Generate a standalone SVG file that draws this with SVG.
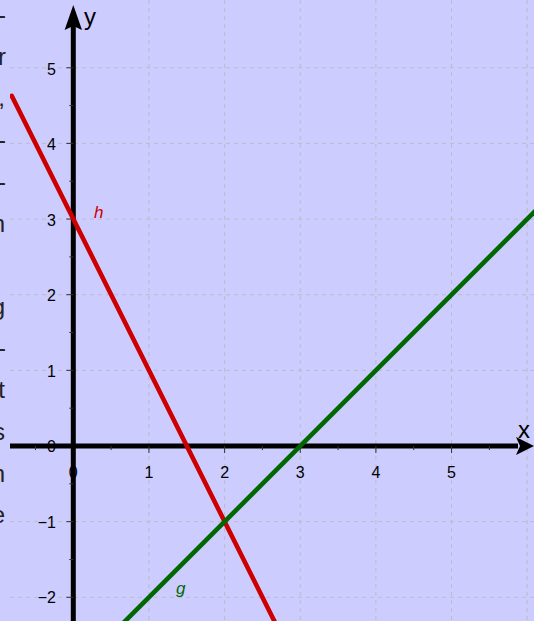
<svg xmlns="http://www.w3.org/2000/svg" width="534" height="621" viewBox="0 0 534 621">
<style>
.grid{stroke:#bcbcc8;stroke-width:1;stroke-dasharray:4,4;fill:none}
.tick{stroke:#333;stroke-width:1}
.lbl{font-family:"Liberation Sans",Arial,sans-serif;font-size:16px;fill:#000}
.ax{font-family:"Liberation Sans",Arial,sans-serif;font-size:24px;fill:#000}
.side{font-family:"Liberation Sans",Arial,sans-serif;font-size:24px;fill:#222;text-anchor:end}
.fn{font-family:"Liberation Sans",Arial,sans-serif;font-size:17px;font-style:italic}
</style>
<defs>
<clipPath id="plot"><rect x="10" y="0" width="524" height="621"/></clipPath>
</defs>
<rect x="0" y="0" width="534" height="621" fill="#ccccff"/>
<g id="sidetext">
<text class="side" x="6" y="23">-</text>
<text class="side" x="6" y="65">r</text>
<text class="side" x="5" y="106">,</text>
<text class="side" x="6" y="148">-</text>
<text class="side" x="6" y="190">-</text>
<text class="side" x="5" y="232">n</text>
<text class="side" x="5" y="315">g</text>
<text class="side" x="6" y="356">-</text>
<text class="side" x="5" y="398">t</text>
<text class="side" x="5" y="440">s</text>
<text class="side" x="5" y="482">n</text>
<text class="side" x="5" y="523">e</text>
</g>
<g id="plotarea" clip-path="url(#plot)">
<g id="grid" class="grid">
<path d="M148.95,0V621M224.6,0V621M300.25,0V621M375.9,0V621M451.55,0V621M527.2,0V621"/>
<path d="M10,67.75H534M10,143.4H534M10,219.05H534M10,294.7H534M10,370.35H534M10,521.65H534M10,597.3H534"/>
</g>
<g id="labels" class="lbl">
<text x="56" y="74.5" text-anchor="end">5</text>
<text x="56" y="150" text-anchor="end">4</text>
<text x="56" y="225.5" text-anchor="end">3</text>
<text x="56" y="301" text-anchor="end">2</text>
<text x="56" y="376.5" text-anchor="end">1</text>
<text x="56" y="452" text-anchor="end">0</text>
<text x="56" y="527.5" text-anchor="end">−1</text>
<text x="56" y="603" text-anchor="end">−2</text>
<text x="73.3" y="478" text-anchor="middle">0</text>
<text x="148.95" y="478" text-anchor="middle">1</text>
<text x="224.6" y="478" text-anchor="middle">2</text>
<text x="300.25" y="478" text-anchor="middle">3</text>
<text x="375.9" y="478" text-anchor="middle">4</text>
<text x="451.55" y="478" text-anchor="middle">5</text>
</g>
<g id="axes">
<path d="M10,446H518M73.3,621V22" stroke="#000" stroke-width="5" fill="none"/>
<path d="M534,446L516,437L520,446L516,455Z" fill="#000"/>
<path d="M73.3,5L82,30L73.3,26L64.6,30Z" fill="#000"/>
<g class="tick">
<path d="M148.95,446v7M224.6,446v7M300.25,446v7M375.9,446v7M451.55,446v7"/>
<path d="M35.5,446v4M111.1,446v4M186.8,446v4M262.4,446v4M338.1,446v4M413.7,446v4M489.4,446v4"/>
<path d="M73.3,67.75h-7M73.3,143.4h-7M73.3,219.05h-7M73.3,294.7h-7M73.3,370.35h-7M73.3,521.65h-7M73.3,597.3h-7"/>
<path d="M73.3,105.6h-4M73.3,181.2h-4M73.3,256.9h-4M73.3,332.5h-4M73.3,408.2h-4M73.3,483.8h-4M73.3,559.5h-4"/>
</g>
</g>
<g id="h">
<line x1="11.7" y1="95.8" x2="280" y2="632.4" stroke="#cc0000" stroke-width="4.6" stroke-linecap="round"/>
<text class="fn" x="94" y="218" fill="#cc0000">h</text>
</g>
<g id="g">
<line x1="114" y1="632.25" x2="545" y2="201.25" stroke="#006600" stroke-width="4.6"/>
<text class="fn" x="176" y="594" fill="#006600">g</text>
</g>
</g>
<text class="ax" x="84" y="25">y</text>
<text class="ax" x="518" y="438">x</text>
</svg>
